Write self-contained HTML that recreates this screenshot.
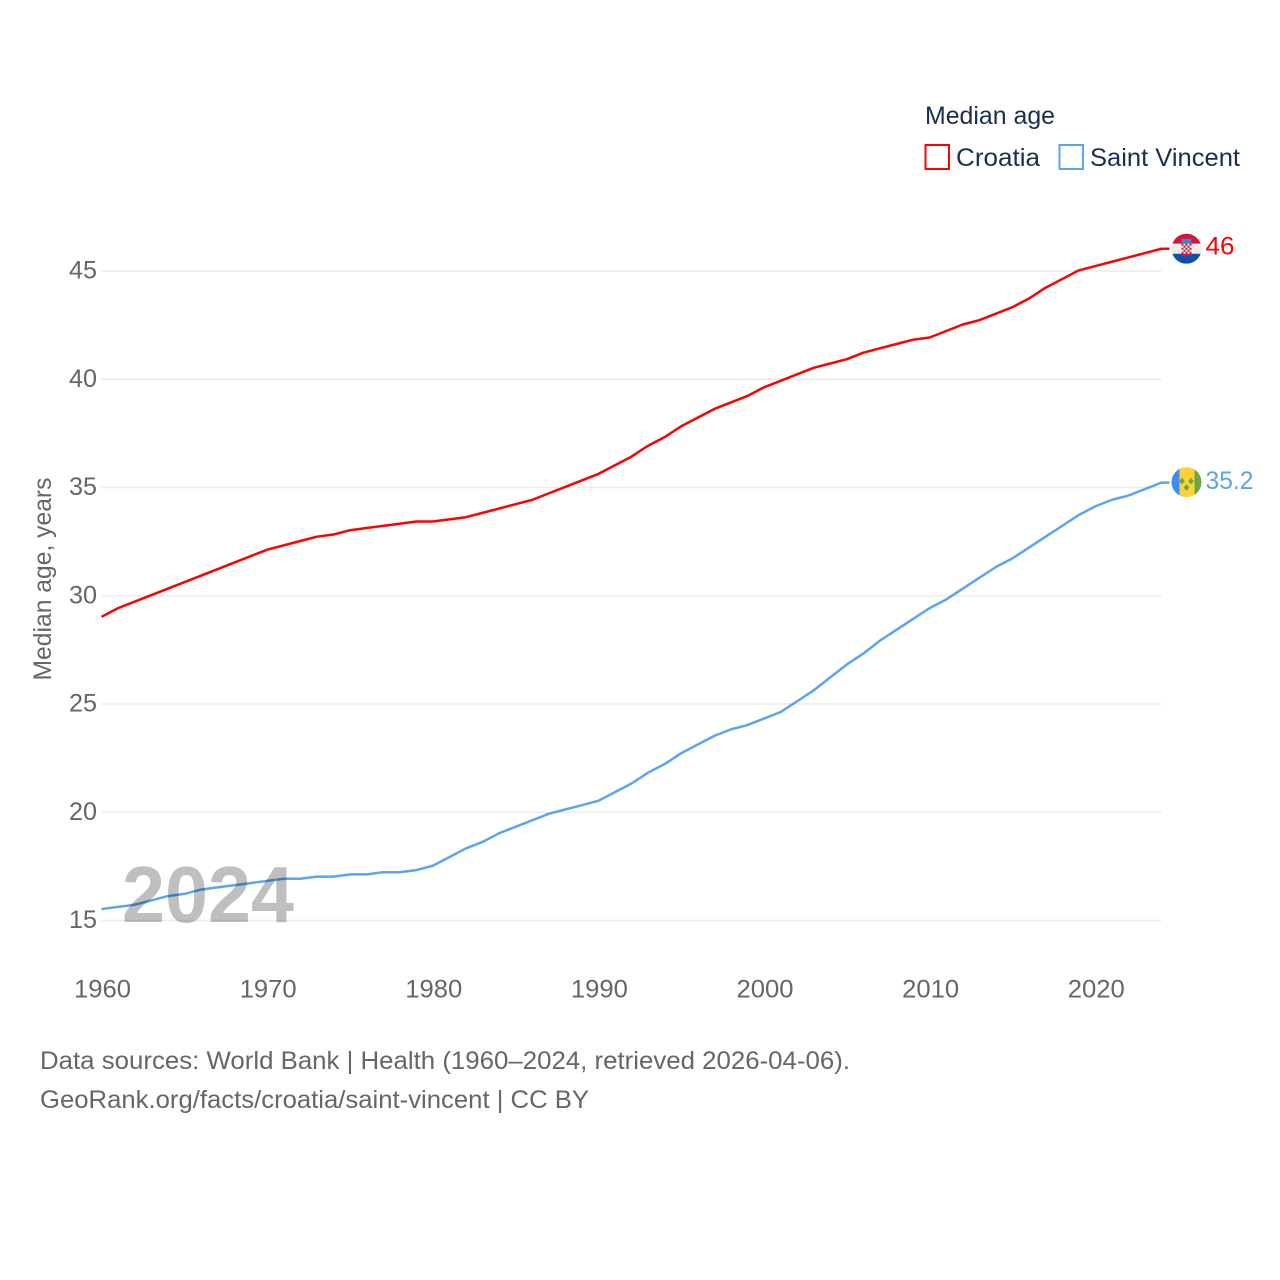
<!DOCTYPE html>
<html lang="en">
<head>
<meta charset="utf-8">
<title>Median age: Croatia and Saint Vincent</title>
<style>
html,body{margin:0;padding:0;background:#fff}
svg{display:block;font-family:"Liberation Sans",sans-serif}
</style>
</head>
<body>
<svg id="chart" xmlns="http://www.w3.org/2000/svg" width="1280" height="1280" viewBox="0 0 1280 1280">
  <defs>
    <clipPath id="flag-clip"><circle cx="0" cy="0" r="15"></circle></clipPath>
  </defs>
  <rect x="0" y="0" width="1280" height="1280" fill="#fff"></rect>
  <g id="grid"></g>
  <g id="y-ticks"></g>
  <g id="x-ticks"></g>
  <text transform="translate(51,579) rotate(-90)" text-anchor="middle" font-size="25" fill="#666" textLength="203" lengthAdjust="spacingAndGlyphs">Median age, years</text>
  <g id="series"></g>
  <text x="122" y="922" font-size="80" font-weight="700" fill="#000" fill-opacity="0.25" textLength="172" lengthAdjust="spacingAndGlyphs">2024</text>
  <g id="end-markers"></g>
  <g>
    <text x="925" y="124" font-size="25" fill="#1a2e50" textLength="130" lengthAdjust="spacingAndGlyphs">Median age</text>
    <g>
      <rect x="925.5" y="145" width="23.5" height="24" fill="#fff" stroke="#ff0000" stroke-width="2"></rect>
      <text x="956" y="166" font-size="25" fill="#1a2e50" textLength="84" lengthAdjust="spacingAndGlyphs">Croatia</text>
    </g>
    <g>
      <rect x="1059.5" y="145" width="23.5" height="24" fill="#fff" stroke="#5ba5ef" stroke-width="2"></rect>
      <text x="1090" y="166" font-size="25" fill="#1a2e50" textLength="150" lengthAdjust="spacingAndGlyphs">Saint Vincent</text>
    </g>
  </g>
  <g>
    <text x="40" y="1069" font-size="25" fill="#666" textLength="810" lengthAdjust="spacingAndGlyphs">Data sources: World Bank | Health (1960–2024, retrieved 2026-04-06).</text>
    <text x="40" y="1108" font-size="25" fill="#666" textLength="549" lengthAdjust="spacingAndGlyphs">GeoRank.org/facts/croatia/saint-vincent | CC BY</text>
  </g>
</svg>
<script>
const years = [1960,1961,1962,1963,1964,1965,1966,1967,1968,1969,1970,1971,1972,1973,1974,1975,1976,1977,1978,1979,1980,1981,1982,1983,1984,1985,1986,1987,1988,1989,1990,1991,1992,1993,1994,1995,1996,1997,1998,1999,2000,2001,2002,2003,2004,2005,2006,2007,2008,2009,2010,2011,2012,2013,2014,2015,2016,2017,2018,2019,2020,2021,2022,2023,2024];
const croatia = [29.0,29.4,29.7,30.0,30.3,30.6,30.9,31.2,31.5,31.8,32.1,32.3,32.5,32.7,32.8,33.0,33.1,33.2,33.3,33.4,33.4,33.5,33.6,33.8,34.0,34.2,34.4,34.7,35.0,35.3,35.6,36.0,36.4,36.9,37.3,37.8,38.2,38.6,38.9,39.2,39.6,39.9,40.2,40.5,40.7,40.9,41.2,41.4,41.6,41.8,41.9,42.2,42.5,42.7,43.0,43.3,43.7,44.2,44.6,45.0,45.2,45.4,45.6,45.8,46.0];
const saintVincent = [15.5,15.6,15.7,15.9,16.1,16.2,16.4,16.5,16.6,16.7,16.8,16.9,16.9,17.0,17.0,17.1,17.1,17.2,17.2,17.3,17.5,17.9,18.3,18.6,19.0,19.3,19.6,19.9,20.1,20.3,20.5,20.9,21.3,21.8,22.2,22.7,23.1,23.5,23.8,24.0,24.3,24.6,25.1,25.6,26.2,26.8,27.3,27.9,28.4,28.9,29.4,29.8,30.3,30.8,31.3,31.7,32.2,32.7,33.2,33.7,34.1,34.4,34.6,34.9,35.2];
const yTickLabels = [15,20,25,30,35,40,45];
const xTickLabels = [1960,1970,1980,1990,2000,2010,2020];

const NS = 'http://www.w3.org/2000/svg';
function xScale(year){ return 101.5 + (year - 1960) * (1161.5 - 101.5) / 64; }
function yScale(v){ return 920.5 - (v - 15) * (920.5 - 271) / 30; }
function make(tag, attrs, parent){
  const el = document.createElementNS(NS, tag);
  for (const k in attrs) el.setAttribute(k, attrs[k]);
  parent.appendChild(el);
  return el;
}

const gridG = document.getElementById('grid');
const yG = document.getElementById('y-ticks');
yTickLabels.forEach(function(t){
  const line = make('line', {x1:101.5, x2:1161.5, y1:yScale(t), y2:yScale(t), stroke:'#ececec', 'stroke-width':1.5}, gridG);
  
  
  const label = make('text', {x:97, y:yScale(t)+7.5, 'text-anchor':'end', 'font-size':25, fill:'#666', textLength:28, lengthAdjust:'spacingAndGlyphs'}, yG);
  
  
  label.textContent = t;
});

const xG = document.getElementById('x-ticks');
xTickLabels.forEach(function(t){
  const label = make('text', {x:xScale(t)+1, y:997.5, 'text-anchor':'middle', 'font-size':25, fill:'#666', textLength:57, lengthAdjust:'spacingAndGlyphs'}, xG);
  
  
  label.textContent = t;
});

function linePoints(values){
  const pts = values.map(function(v, i){ return xScale(years[i]).toFixed(2) + ',' + (yScale(v) - 0.6).toFixed(2); });
  const last = values[values.length - 1];
  pts.push((xScale(years[years.length - 1]) + 8).toFixed(2) + ',' + (yScale(last) - 0.6).toFixed(2));
  return pts.join(' ');
}
const seriesG = document.getElementById('series');
const redLine = make('polyline', {points:linePoints(croatia), fill:'none', stroke:'#ff0000', 'stroke-width':2.5, 'stroke-linejoin':'round'}, seriesG);


const blueLine = make('polyline', {points:linePoints(saintVincent), fill:'none', stroke:'#5ba5ef', 'stroke-width':2.5, 'stroke-linejoin':'round'}, seriesG);



const markers = document.getElementById('end-markers');
const flagX = xScale(2024) + 25;

const hrLast = croatia[croatia.length - 1];
const hrFlag = make('g', {transform:'translate(' + flagX + ',' + (yScale(hrLast) - 0.6) + ')', 'clip-path':'url(#flag-clip)'}, markers);


make('rect', {x:-15, y:-15, width:30, height:10, fill:'#d8143a'}, hrFlag);
make('rect', {x:-15, y:-5, width:30, height:10, fill:'#eeeeee'}, hrFlag);
make('rect', {x:-15, y:5, width:30, height:10, fill:'#0f50a8'}, hrFlag);
make('rect', {x:-5, y:-10, width:10, height:5, fill:'#3f82d0'}, hrFlag);
make('rect', {x:-5, y:-5, width:10, height:12, fill:'#d8143a'}, hrFlag);
make('path', {d:'M-3-5h2v2h-2zM1-5h2v2h-2zM-5-3h2v2h-2zM-1-3h2v2h-2zM3-3h2v2h-2zM-3-1h2v2h-2zM1-1h2v2h-2zM-5 1h2v2h-2zM-1 1h2v2h-2zM3 1h2v2h-2zM-3 3h2v2h-2zM1 3h2v2h-2z', fill:'#f4f4f4'}, hrFlag);
const hrLabel = make('text', {x:flagX + 19, y:yScale(hrLast) + 5, 'font-size':25, fill:'#ff0000', textLength:29, lengthAdjust:'spacingAndGlyphs'}, markers);


hrLabel.textContent = hrLast;

const vcLast = saintVincent[saintVincent.length - 1];
const vcFlag = make('g', {transform:'translate(' + flagX + ',' + (yScale(vcLast) - 1) + ')', 'clip-path':'url(#flag-clip)'}, markers);


make('rect', {x:-15, y:-15, width:8, height:30, fill:'#3f8df0'}, vcFlag);
make('rect', {x:-7, y:-15, width:15, height:30, fill:'#fdd13a'}, vcFlag);
make('rect', {x:8, y:-15, width:7, height:30, fill:'#6da544'}, vcFlag);
make('path', {d:'M-4.5-4.5l2.8 3.4-2.8 3.4-2.8-3.4zM4.5-4.5l2.8 3.4-2.8 3.4-2.8-3.4zM0 2l2.8 3.4-2.8 3.4-2.8-3.4z', fill:'#6da544'}, vcFlag);
const vcLabel = make('text', {x:flagX + 19, y:yScale(vcLast) + 6, 'font-size':25, fill:'#5ba5ef', textLength:48, lengthAdjust:'spacingAndGlyphs'}, markers);


vcLabel.textContent = vcLast;
</script>
</body>
</html>
